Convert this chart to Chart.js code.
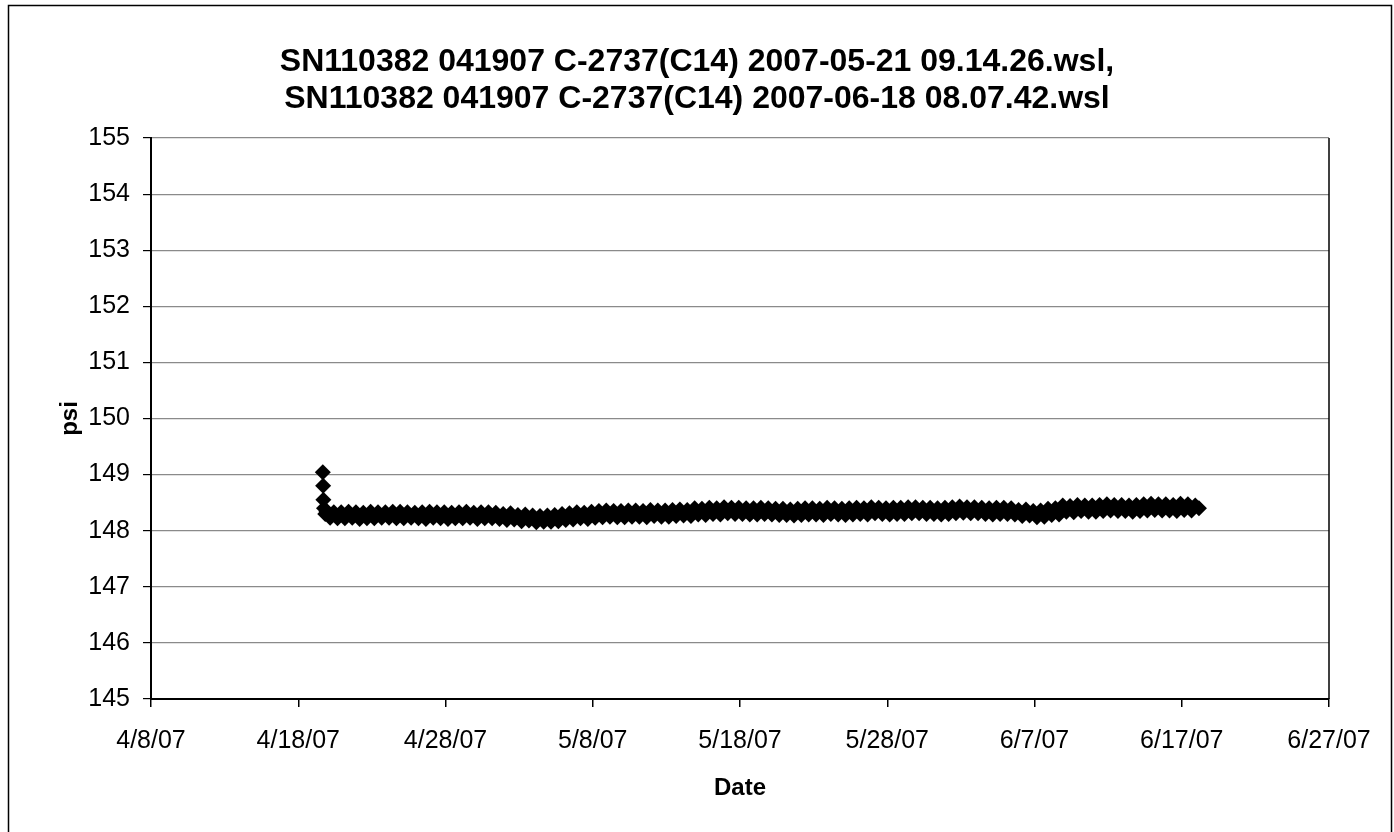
<!DOCTYPE html>
<html>
<head>
<meta charset="utf-8">
<script src="https://cdn.jsdelivr.net/npm/chart.js@4.4.1/dist/chart.umd.min.js"></script>
<style>
  html, body { margin: 0; padding: 0; background: #fff; }
  #wrap { width: 1394px; height: 832px; position: relative; }
</style>
</head>
<body>
<div id="wrap"><canvas id="c" width="1394" height="832"></canvas></div>
<script>
// ---- Data ----
const titleLines = [
  'SN110382 041907 C-2737(C14) 2007-05-21 09.14.26.wsl,',
  'SN110382 041907 C-2737(C14) 2007-06-18 08.07.42.wsl'
];
const xTitle = 'Date';
const yTitle = 'psi';
const xTickLabels = ['4/8/07', '4/18/07', '4/28/07', '5/8/07', '5/18/07', '5/28/07', '6/7/07', '6/17/07', '6/27/07'];
const xAxisStart = [2007, 4, 8];   // 4/8/07
const xAxisEnd = [2007, 6, 27];    // 6/27/07
const xTickStepDays = 10;
const yMin = 145, yMax = 155, yStep = 1;

// logging start: 4/19/07 16:00
const logStart = [2007, 4, 19, 16];
// start-up readings (hours after logging start)
const transientHours = [0, 0.5, 1, 2, 4];
const transientPsi = [149.04, 148.80, 148.55, 148.40, 148.30];
// regular readings every 6 h, after the start-up readings
const sampleStepHours = 6;
const psiValues = [
  148.34, 148.23, 148.33, 148.22,
  148.33, 148.22, 148.34, 148.23,
  148.33, 148.21, 148.32, 148.22,
  148.34, 148.22, 148.33, 148.23,
  148.33, 148.23, 148.34, 148.22,
  148.34, 148.22, 148.33, 148.23,
  148.32, 148.22, 148.33, 148.21,
  148.34, 148.23, 148.33, 148.22,
  148.33, 148.21, 148.32, 148.22,
  148.33, 148.22, 148.34, 148.23,
  148.32, 148.21, 148.33, 148.22,
  148.33, 148.22, 148.32, 148.21,
  148.30, 148.19, 148.31, 148.20,
  148.28, 148.17, 148.29, 148.18,
  148.27, 148.15, 148.26, 148.16,
  148.27, 148.16, 148.28, 148.17,
  148.30, 148.19, 148.31, 148.20,
  148.33, 148.22, 148.32, 148.21,
  148.34, 148.23, 148.35, 148.24,
  148.36, 148.25, 148.35, 148.24,
  148.35, 148.24, 148.36, 148.25,
  148.36, 148.25, 148.35, 148.24,
  148.37, 148.26, 148.36, 148.25,
  148.36, 148.25, 148.37, 148.26,
  148.38, 148.27, 148.37, 148.26,
  148.40, 148.29, 148.39, 148.28,
  148.41, 148.30, 148.40, 148.29,
  148.42, 148.31, 148.41, 148.30,
  148.41, 148.30, 148.40, 148.29,
  148.40, 148.29, 148.41, 148.30,
  148.40, 148.29, 148.39, 148.28,
  148.39, 148.28, 148.38, 148.27,
  148.39, 148.28, 148.40, 148.29,
  148.40, 148.29, 148.39, 148.28,
  148.41, 148.30, 148.40, 148.29,
  148.39, 148.28, 148.40, 148.29,
  148.41, 148.30, 148.40, 148.29,
  148.42, 148.31, 148.41, 148.30,
  148.40, 148.29, 148.41, 148.30,
  148.41, 148.30, 148.42, 148.31,
  148.42, 148.31, 148.41, 148.30,
  148.41, 148.30, 148.40, 148.29,
  148.41, 148.30, 148.42, 148.31,
  148.43, 148.32, 148.42, 148.31,
  148.42, 148.31, 148.41, 148.30,
  148.40, 148.29, 148.41, 148.30,
  148.41, 148.30, 148.40, 148.29,
  148.37, 148.26, 148.38, 148.27,
  148.35, 148.24, 148.36, 148.25,
  148.39, 148.28, 148.40, 148.29,
  148.45, 148.34, 148.44, 148.33,
  148.46, 148.35, 148.45, 148.34,
  148.45, 148.34, 148.46, 148.35,
  148.47, 148.36, 148.46, 148.35,
  148.46, 148.35, 148.45, 148.34,
  148.46, 148.35, 148.47, 148.36,
  148.48, 148.37, 148.47, 148.36,
  148.47, 148.36, 148.46, 148.35,
  148.48, 148.37, 148.47, 148.36,
  148.45, 148.40
];

// ---- Build points (x in days since the axis start) ----
const DAY = 86400000;
const axisStartMs = Date.UTC(xAxisStart[0], xAxisStart[1] - 1, xAxisStart[2]);
const axisEndMs = Date.UTC(xAxisEnd[0], xAxisEnd[1] - 1, xAxisEnd[2]);
const logStartMs = Date.UTC(logStart[0], logStart[1] - 1, logStart[2], logStart[3]);
const startDay = (logStartMs - axisStartMs) / DAY;
const points = [];
transientHours.forEach((h, i) => points.push({ x: startDay + h / 24, y: transientPsi[i] }));
psiValues.forEach((v, i) => points.push({ x: startDay + (i + 1) * sampleStepHours / 24, y: v }));

const FONT = '"Liberation Sans", Arial, sans-serif';

const bgAndFrame = {
  id: 'bgAndFrame',
  beforeDraw(chart) {
    const ctx = chart.ctx;
    ctx.save();
    ctx.fillStyle = '#fff';
    ctx.fillRect(0, 0, chart.width, chart.height);
    ctx.strokeStyle = '#000';
    ctx.lineWidth = 1.5;
    ctx.beginPath();
    ctx.moveTo(8.5, chart.height);
    ctx.lineTo(8.5, 5.5);
    ctx.lineTo(1391.5, 5.5);
    ctx.lineTo(1391.5, chart.height);
    ctx.stroke();
    ctx.restore();
  },
  afterDraw(chart) {
    const { ctx, chartArea: a } = chart;
    ctx.save();
    ctx.strokeStyle = '#000';
    ctx.lineWidth = 1.5;
    ctx.beginPath();
    ctx.moveTo(a.right, a.top);
    ctx.lineTo(a.right, a.bottom);
    ctx.stroke();
    ctx.restore();
  }
};

new Chart(document.getElementById('c'), {
  type: 'scatter',
  data: {
    datasets: [{
      label: 'psi',
      data: points,
      showLine: false,
      pointStyle: 'rectRot',
      pointRadius: 8,
      pointHoverRadius: 8,
      pointBackgroundColor: '#000',
      pointBorderColor: '#000',
      pointBorderWidth: 0
    }]
  },
  options: {
    responsive: false,
    animation: false,
    events: [],
    layout: { padding: { left: 0, right: 0, top: 0, bottom: 0 } },
    plugins: {
      legend: { display: false },
      tooltip: { enabled: false },
      title: {
        display: true,
        text: titleLines,
        color: '#000',
        font: { family: FONT, size: 32, weight: 'bold', lineHeight: 1.18 },
        padding: { top: 43, bottom: 19.5 }
      }
    },
    scales: {
      x: {
        type: 'linear',
        min: 0,
        max: (axisEndMs - axisStartMs) / DAY,
        afterFit(scale) { scale.height = 133; },
        ticks: {
          stepSize: xTickStepDays,
          autoSkip: false,
          maxRotation: 0,
          color: '#000',
          padding: 19,
          font: { family: FONT, size: 25 },
          callback: (v, i) => xTickLabels[i]
        },
        grid: { drawOnChartArea: false, drawTicks: true, tickLength: 8, color: '#000', lineWidth: 1.5 },
        border: { display: true, color: '#000', width: 2 },
        title: {
          display: true, text: xTitle, color: '#000',
          font: { family: FONT, size: 24, weight: 'bold', lineHeight: 1.2 },
          padding: { top: 0, bottom: 29 }
        }
      },
      y: {
        min: yMin, max: yMax,
        afterFit(scale) { scale.width = 151; },
        ticks: {
          stepSize: yStep,
          color: '#000',
          padding: 13,
          font: { family: FONT, size: 25 }
        },
        grid: {
          color: '#8a8a8a', lineWidth: 1.2, drawTicks: true, tickLength: 8,
          tickColor: '#000'
        },
        border: { display: true, color: '#000', width: 2 },
        title: {
          display: true, text: yTitle, color: '#000',
          font: { family: FONT, size: 24, weight: 'bold', lineHeight: 1.2 },
          padding: { top: 56, bottom: 0 }
        }
      },
      yRight: {
        type: 'linear',
        position: 'right',
        display: true,
        afterFit(scale) { scale.width = 65; },
        ticks: { display: false },
        grid: { display: false, drawTicks: false },
        border: { display: false },
        title: { display: false }
      }
    }
  },
  plugins: [bgAndFrame]
});
</script>
</body>
</html>
